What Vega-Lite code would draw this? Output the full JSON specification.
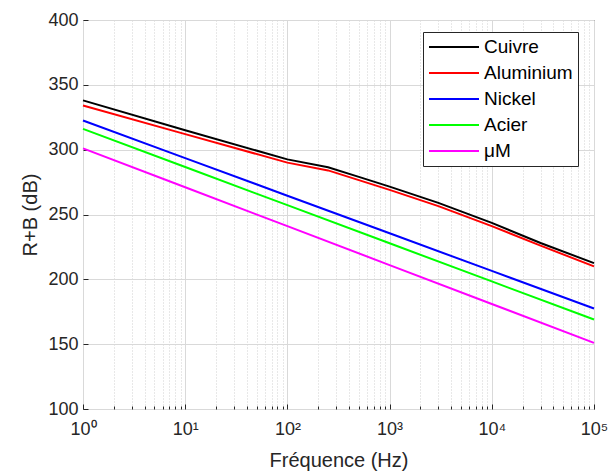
{
  "$schema": "https://vega.github.io/schema/vega-lite/v6.json",
  "autosize": {"type": "none"},
  "padding": {"left": 83, "top": 20, "right": 18, "bottom": 66},
  "width": 511,
  "height": 389,
  "background": "white",
  "config": {
    "font": "Liberation Sans",
    "view": {"stroke": "#262626", "strokeWidth": 1}
  },
  "data": {"values": [
    {"f": 1, "v": 338, "s": "Cuivre"},
    {"f": 10, "v": 315, "s": "Cuivre"},
    {"f": 100, "v": 292.5, "s": "Cuivre"},
    {"f": 250, "v": 286.5, "s": "Cuivre"},
    {"f": 500, "v": 279, "s": "Cuivre"},
    {"f": 1000, "v": 271.5, "s": "Cuivre"},
    {"f": 3000, "v": 259, "s": "Cuivre"},
    {"f": 10000, "v": 243.5, "s": "Cuivre"},
    {"f": 30000, "v": 228, "s": "Cuivre"},
    {"f": 100000, "v": 212.5, "s": "Cuivre"},
    {"f": 1, "v": 334, "s": "Aluminium"},
    {"f": 10, "v": 312, "s": "Aluminium"},
    {"f": 100, "v": 290, "s": "Aluminium"},
    {"f": 250, "v": 284, "s": "Aluminium"},
    {"f": 500, "v": 276.5, "s": "Aluminium"},
    {"f": 1000, "v": 269, "s": "Aluminium"},
    {"f": 3000, "v": 256.5, "s": "Aluminium"},
    {"f": 10000, "v": 241, "s": "Aluminium"},
    {"f": 30000, "v": 226, "s": "Aluminium"},
    {"f": 100000, "v": 210, "s": "Aluminium"},
    {"f": 1, "v": 322.5, "s": "Nickel"},
    {"f": 10, "v": 293.5, "s": "Nickel"},
    {"f": 100, "v": 264.5, "s": "Nickel"},
    {"f": 1000, "v": 235.5, "s": "Nickel"},
    {"f": 10000, "v": 206.5, "s": "Nickel"},
    {"f": 100000, "v": 177.5, "s": "Nickel"},
    {"f": 1, "v": 316, "s": "Acier"},
    {"f": 10, "v": 286.6, "s": "Acier"},
    {"f": 100, "v": 257.2, "s": "Acier"},
    {"f": 1000, "v": 227.8, "s": "Acier"},
    {"f": 10000, "v": 198.4, "s": "Acier"},
    {"f": 100000, "v": 169, "s": "Acier"},
    {"f": 1, "v": 301, "s": "μM"},
    {"f": 10, "v": 271, "s": "μM"},
    {"f": 100, "v": 241, "s": "μM"},
    {"f": 1000, "v": 211, "s": "μM"},
    {"f": 10000, "v": 181, "s": "μM"},
    {"f": 100000, "v": 151, "s": "μM"}
  ]},
  "mark": {"type": "line", "strokeWidth": 2},
  "encoding": {
    "x": {
      "field": "f", "type": "quantitative",
      "scale": {"type": "log", "domain": [1, 100000], "nice": false},
      "axis": {
        "title": "Fréquence (Hz)",
        "titleFontSize": 20, "titleFontWeight": "normal", "titleColor": "#262626", "titlePadding": 10,
        "values": [1,2,3,4,5,6,7,8,9,10,20,30,40,50,60,70,80,90,100,200,300,400,500,600,700,800,900,1000,2000,3000,4000,5000,6000,7000,8000,9000,10000,20000,30000,40000,50000,60000,70000,80000,90000,100000],
        "labelExpr": "datum.value==1?'10⁰':datum.value==10?'10¹':datum.value==100?'10²':datum.value==1000?'10³':datum.value==10000?'10⁴':datum.value==100000?'10⁵':''",
        "labelOverlap": false, "labelFlush": false,
        "labelFontSize": 18, "labelColor": "#262626", "labelPadding": 16,
        "domain": false,
        "ticks": true,
        "tickSize": {"condition": {"test": "indexof([1,10,100,1000,10000,100000], datum.value) >= 0", "value": -5}, "value": -3},
        "tickColor": "#262626",
        "grid": true,
        "gridColor": {"condition": {"test": "indexof([1,10,100,1000,10000,100000], datum.value) >= 0", "value": "#d9d9d9"}, "value": "#d0d0d0"},
        "gridDash": {"condition": {"test": "indexof([1,10,100,1000,10000,100000], datum.value) >= 0", "value": []}, "value": [1, 2]},
        "gridWidth": 1
      }
    },
    "y": {
      "field": "v", "type": "quantitative",
      "scale": {"domain": [100, 400], "nice": false},
      "axis": {
        "title": "R+B (dB)",
        "titleFontSize": 20, "titleFontWeight": "normal", "titleColor": "#262626", "titlePadding": 7,
        "values": [100,150,200,250,300,350,400],
        "labelFontSize": 18, "labelColor": "#262626", "labelPadding": 10,
        "domain": false, "ticks": true, "tickSize": -5, "tickColor": "#262626",
        "grid": true, "gridColor": "#d9d9d9"
      }
    },
    "color": {
      "field": "s", "type": "nominal",
      "scale": {"domain": ["Cuivre", "Aluminium", "Nickel", "Acier", "μM"], "range": ["#000000", "#ff0000", "#0000ff", "#00ff00", "#ff00ff"]},
      "legend": {
        "title": null,
        "orient": "none", "legendX": 340, "legendY": 12,
        "symbolType": "stroke", "symbolSize": 2500, "symbolStrokeWidth": 2,
        "clipHeight": 20,
        "labelFontSize": 19, "labelColor": "#000000", "labelOffset": 4,
        "rowPadding": 6,
        "fillColor": "white", "strokeColor": "#262626",
        "padding": 5
      }
    }
  }
}
